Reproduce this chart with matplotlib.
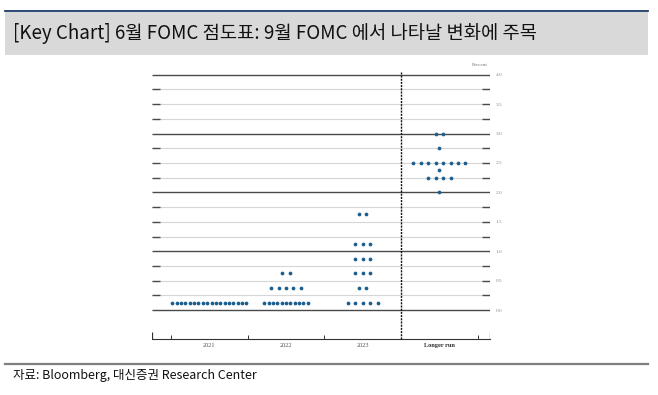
import matplotlib
matplotlib.use("Agg")
import matplotlib.pyplot as plt
from matplotlib.patches import Rectangle
from matplotlib.lines import Line2D
import numpy as np

# ---------------- data ----------------
title = "[Key Chart] 6월 FOMC 점도표: 9월 FOMC 에서 나타날 변화에 주목"
source = "자료: Bloomberg, 대신증권 Research Center"
categories = ["2021", "2022", "2023", "Longer run"]

levels_2021 = [0.125]
counts_2021 = [18]
levels_2022 = [0.125, 0.375, 0.625]
counts_2022 = [11, 5, 2]
levels_2023 = [0.125, 0.375, 0.625, 0.875, 1.125, 1.625]
counts_2023 = [5, 2, 3, 3, 3, 2]
levels_lr = [2.0, 2.25, 2.375, 2.5, 2.75, 3.0]
counts_lr = [1, 4, 1, 8, 1, 2]

ytick_values = [0.0, 0.5, 1.0, 1.5, 2.0, 2.5, 3.0, 3.5, 4.0]
ytick_labels = ["0.0", "0.5", "1.0", "1.5", "2.0", "2.5", "3.0", "3.5", "4.0"]
unit_label = "Percent"

# ---------------- figure ----------------
W, H = 658, 395
fig = plt.figure(figsize=(W / 100, H / 100), dpi=100)
fig.patch.set_facecolor("white")

def fx(px):
    return px / W

def fy(py):
    return 1 - py / H

# title band
fig.patches.append(Rectangle((fx(5), fy(55)), fx(643), 45 / H, transform=fig.transFigure,
                             facecolor="#d9d9d9", edgecolor="none", zorder=0))
fig.lines.append(Line2D([fx(5), fx(648)], [fy(10.5), fy(10.5)], transform=fig.transFigure,
                        color="#1f3d6b", lw=1.3))
fig.text(fx(13), fy(33.5), title, fontsize=13.5, va="center", ha="left",
         family=["Noto Sans CJK KR", "DejaVu Sans"], color="#111111", fontweight="medium")

# footer
fig.lines.append(Line2D([fx(5), fx(648)], [fy(364), fy(364)], transform=fig.transFigure,
                        color="#7f7f7f", lw=1.6))
fig.text(fx(13), fy(376), source, fontsize=9.0, va="center", ha="left",
         family=["Noto Sans CJK KR", "DejaVu Sans"], color="#111111")

# ---------------- axes ----------------
ax = fig.add_axes([fx(152), fy(350), fx(490) - fx(152), 290 / H])
ax.set_xlim(-0.248, 4.161)
ax.set_ylim((310 - 350) / 58.8, (310 - 60) / 58.8)
for s in ["top", "left", "right"]:
    ax.spines[s].set_visible(False)
ax.spines["bottom"].set_position(("data", -0.5))
ax.spines["bottom"].set_color("#333333")
ax.spines["bottom"].set_linewidth(0.8)

x0, x1 = ax.get_xlim()
stub = 0.105
# horizontal grid lines
for v in np.arange(0, 4.01, 0.25):
    major = abs(v - round(v)) < 1e-9
    if major:
        ax.hlines(v, x0, x1, color="#4a4a4a", lw=1.0, zorder=1)
    else:
        ax.hlines(v, x0, x1, color="#d6d6d6", lw=0.8, zorder=1)
        ax.hlines(v, x0, x0 + stub, color="#4a4a4a", lw=1.0, zorder=2)
        ax.hlines(v, x1 - stub, x1, color="#4a4a4a", lw=1.0, zorder=2)

# dashed separator
ax.vlines(3, -0.5, 4.05, color="#111111", lw=1.0, linestyles=(0, (1.5, 0.8)), zorder=3)

# dots
dot_color = "#1b5f8e"
groups = [(levels_2021, counts_2021), (levels_2022, counts_2022),
          (levels_2023, counts_2023), (levels_lr, counts_lr)]
for i, (lev, cnt) in enumerate(groups):
    center = i + 0.5
    for v, n in zip(lev, cnt):
        sp = 0.0975 if n <= 8 else 0.057
        xs = center + (np.arange(n) - (n - 1) / 2) * sp
        ax.plot(xs, [v] * n, "o", ms=2.7, color=dot_color, mec=dot_color, mew=0, zorder=4)

# bottom axis ticks
ax.set_xticks([0, 1, 2, 4])
ax.set_xticklabels([])
ax.tick_params(axis="x", which="major", direction="in", length=3.0, width=0.7, color="#333333")
ax.set_xticks([0.5, 1.5, 2.5, 3.5], minor=True)
ax.set_xticklabels(categories, minor=True)
ax.tick_params(axis="x", which="minor", length=0, pad=2.5, labelsize=4.6, labelcolor="#555555")
for lab in ax.get_xticklabels(minor=True):
    lab.set_family("Liberation Serif")
ax.get_xticklabels(minor=True)[3].set_fontweight("bold")
ax.get_xticklabels(minor=True)[3].set_color("#333333")
# end ticks taller
ax.vlines([x0 + 0.004, x1 - 0.004], -0.5, -0.38, color="#333333", lw=0.9, zorder=3)

# right labels
ax.yaxis.tick_right()
ax.set_yticks(ytick_values)
ax.set_yticklabels(ytick_labels)
ax.tick_params(axis="y", length=0, pad=4, labelsize=3.8, labelcolor="#8a8a8a")
for lab in ax.get_yticklabels():
    lab.set_family("Liberation Serif")
ax.text(x1 - 0.03, (310 - 65.5) / 58.8, unit_label, ha="right", va="center",
        fontsize=3.8, color="#777777", family="Liberation Serif")

fig.savefig("out.png", dpi=100)
